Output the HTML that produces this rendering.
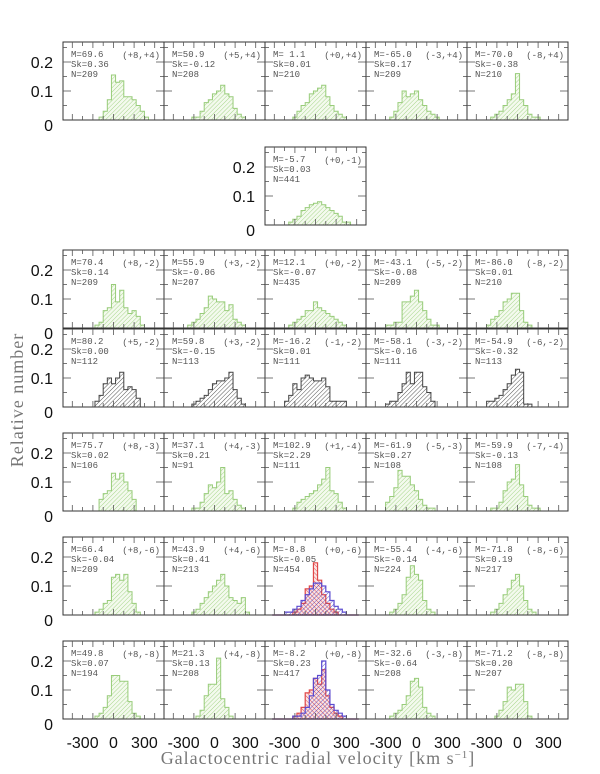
<!DOCTYPE html>
<html><head><meta charset="utf-8"><style>
html,body{margin:0;padding:0;background:#fff;}
svg{display:block;}
.pt{font-family:"Liberation Mono",monospace;font-size:9px;fill:#555;}
.yl{font-family:"Liberation Sans",sans-serif;font-size:16px;fill:#111;}
.ttl{font-family:"Liberation Serif",serif;font-size:18px;fill:#777;letter-spacing:1px;}
</style></head><body>
<svg id="chart" width="600" height="774" viewBox="0 0 600 774" xmlns="http://www.w3.org/2000/svg">
<defs>
<pattern id="hg" patternUnits="userSpaceOnUse" width="3" height="3" patternTransform="rotate(45)"><rect width="3" height="3" fill="#f4faee"/><line x1="0" y1="0" x2="0" y2="3" stroke="#a6d58a" stroke-width="1"/></pattern>
<pattern id="hk" patternUnits="userSpaceOnUse" width="3" height="3" patternTransform="rotate(45)"><rect width="3" height="3" fill="#fff"/><line x1="0" y1="0" x2="0" y2="3" stroke="#555" stroke-width="1"/></pattern>
<pattern id="hr" patternUnits="userSpaceOnUse" width="3" height="3" patternTransform="rotate(-45)"><rect width="3" height="3" fill="#fbe4e4"/><line x1="0" y1="0" x2="0" y2="3" stroke="#e05050" stroke-width="1"/></pattern>
<pattern id="hb" patternUnits="userSpaceOnUse" width="3" height="3" patternTransform="rotate(45)"><line x1="0" y1="0" x2="0" y2="3" stroke="#4a3fc0" stroke-width="1"/></pattern>
</defs>
<g id="panels"></g>
<text class="ttl" transform="translate(23,400) rotate(-90)" text-anchor="middle">Relative number</text>
<text class="ttl" x="318" y="764" text-anchor="middle">Galactocentric radial velocity [km s<tspan dy="-6" font-size="11">−1</tspan><tspan dy="6">]</tspan></text>
</svg>
<script>
const binCenters=[-400,-360,-320,-280,-240,-200,-160,-120,-80,-40,0,40,80,120,160,200,240,280,320,360,400];
const yTicks=[0,0.1,0.2];
const xTickLabels=[-300,0,300];
const panelRows=[0,0,0,0,0,1,2,2,2,2,2,3,3,3,3,3,4,4,4,4,4,5,5,5,5,5,6,6,6,6,6];
const panelCols=[0,1,2,3,4,2,0,1,2,3,4,0,1,2,3,4,0,1,2,3,4,0,1,2,3,4,0,1,2,3,4];
const panelM=["69.6","50.9"," 1.1","-65.0","-70.0","-5.7","70.4","55.9","12.1","-43.1","-86.0","80.2","59.8","-16.2","-58.1","-54.9","75.7","37.1","102.9","-61.9","-59.9","66.4","43.9","-8.8","-55.4","-71.8","49.8","21.3","-8.2","-32.6","-71.2"];
const panelSk=["0.36","-0.12","0.01","0.17","-0.38","0.03","0.14","-0.06","-0.07","-0.08","0.01","0.00","-0.15","0.01","-0.16","-0.32","0.02","0.21","2.29","0.27","-0.13","-0.04","0.41","-0.05","-0.14","0.19","0.07","0.13","0.23","-0.64","0.20"];
const panelN=["209","208","210","209","210","441","209","207","435","209","210","112","113","111","111","113","106","91","111","108","108","209","213","454","224","217","194","208","417","208","207"];
const panelField=["(+8,+4)","(+5,+4)","(+0,+4)","(-3,+4)","(-8,+4)","(+0,-1)","(+8,-2)","(+3,-2)","(+0,-2)","(-5,-2)","(-8,-2)","(+5,-2)","(+3,-2)","(-1,-2)","(-3,-2)","(-6,-2)","(+8,-3)","(+4,-3)","(+1,-4)","(-5,-3)","(-7,-4)","(+8,-6)","(+4,-6)","(+0,-6)","(-4,-6)","(-8,-6)","(+8,-8)","(+4,-8)","(+0,-8)","(-3,-8)","(-8,-8)"];
const panelStyle=["g","g","g","g","g","g","g","g","g","g","g","k","k","k","k","k","g","g","g","g","g","g","g","rb","g","g","g","g","rb","g","g"];
const h0=[0,0,0,0,0,0,0,0.01,0.03,0.07,0.155,0.13,0.135,0.08,0.08,0.07,0.05,0.03,0.01,0,0];
const h1=[0,0,0,0,0,0.01,0.01,0.03,0.06,0.07,0.09,0.10,0.12,0.09,0.08,0.04,0.02,0.01,0,0,0];
const h2=[0,0,0,0,0,0.01,0.03,0.05,0.06,0.09,0.10,0.11,0.12,0.08,0.05,0.03,0.02,0.01,0,0,0];
const h3=[0,0,0,0,0.01,0.03,0.06,0.10,0.08,0.09,0.10,0.07,0.05,0.03,0.02,0.01,0,0,0,0,0];
const h4=[0,0,0,0,0.01,0.02,0.03,0.05,0.07,0.09,0.16,0.07,0.05,0.02,0.01,0.01,0,0,0,0,0];
const h5=[0,0,0,0,0.01,0.02,0.03,0.05,0.06,0.07,0.075,0.08,0.07,0.06,0.05,0.04,0.03,0.01,0.01,0,0];
const h6=[0,0,0,0,0,0,0.01,0.02,0.06,0.07,0.15,0.09,0.13,0.07,0.05,0.06,0.04,0.01,0,0,0];
const h7=[0,0,0,0,0.01,0.02,0.03,0.05,0.07,0.11,0.10,0.09,0.09,0.06,0.08,0.03,0.02,0.01,0,0,0];
const h8=[0,0,0,0,0.01,0.02,0.03,0.04,0.06,0.06,0.09,0.07,0.06,0.05,0.04,0.03,0.02,0.01,0,0,0];
const h9=[0,0,0,0.01,0.01,0.02,0.02,0.09,0.09,0.11,0.13,0.09,0.06,0.03,0.01,0.01,0,0,0,0,0];
const h10=[0,0,0,0.01,0.03,0.04,0.06,0.09,0.10,0.12,0.12,0.06,0.02,0.01,0,0,0,0,0,0,0];
const h11=[0,0,0,0,0,0,0.02,0.04,0.08,0.10,0.08,0.10,0.12,0.06,0.07,0.06,0.03,0,0,0,0];
const h12=[0,0,0,0,0,0.01,0.02,0.03,0.04,0.06,0.08,0.09,0.09,0.10,0.12,0.06,0.03,0.01,0,0,0];
const h13=[0,0,0,0.02,0.04,0.08,0.06,0.10,0.11,0.10,0.09,0.09,0.10,0.07,0.02,0.02,0.02,0.02,0,0,0];
const h14=[0,0,0,0.01,0.02,0.02,0.05,0.08,0.12,0.08,0.12,0.12,0.07,0.05,0.02,0,0,0,0,0,0];
const h15=[0,0,0,0.02,0.02,0.03,0.04,0.06,0.08,0.11,0.13,0.12,0.01,0.01,0,0,0,0,0,0,0];
const h16=[0,0,0,0,0,0,0,0.04,0.06,0.07,0.13,0.11,0.13,0.10,0.07,0.04,0,0,0,0,0];
const h17=[0,0,0,0,0,0.01,0.01,0.03,0.06,0.09,0.08,0.10,0.15,0.06,0.07,0.04,0.02,0.01,0,0,0];
const h18=[0,0,0,0,0,0.01,0.03,0.04,0.05,0.06,0.07,0.09,0.11,0.15,0.07,0.06,0.03,0.01,0,0,0];
const h19=[0,0,0,0.03,0.05,0.08,0.14,0.12,0.12,0.09,0.07,0.04,0.02,0.01,0.01,0,0,0,0,0,0];
const h20=[0,0,0,0,0.01,0.01,0.03,0.07,0.10,0.11,0.16,0.09,0.05,0.02,0.01,0.01,0,0,0,0,0];
const h21=[0,0,0,0,0,0,0.01,0.02,0.04,0.05,0.13,0.14,0.12,0.14,0.08,0.04,0.01,0,0,0,0];
const h22=[0,0,0,0,0,0.01,0.02,0.04,0.06,0.08,0.10,0.12,0.14,0.10,0.06,0.05,0.04,0.06,0.01,0,0];
const h23=[0,0,0,0.01,0.01,0.02,0.03,0.05,0.07,0.09,0.11,0.11,0.10,0.08,0.05,0.03,0.02,0.01,0,0,0];
const h23red=[0,0,0,0,0,0.01,0.02,0.04,0.09,0.10,0.18,0.12,0.07,0.04,0.02,0.01,0,0,0,0,0];
const h24=[0,0,0,0,0.01,0.02,0.04,0.07,0.13,0.17,0.14,0.12,0.05,0.02,0.01,0,0,0,0,0,0];
const h25=[0,0,0,0,0.01,0.02,0.04,0.07,0.09,0.12,0.14,0.10,0.05,0.02,0.01,0,0,0,0,0,0];
const h26=[0,0,0,0,0,0,0.01,0.02,0.04,0.08,0.15,0.15,0.13,0.13,0.06,0.02,0.01,0,0,0,0];
const h27=[0,0,0,0,0,0,0.01,0.03,0.08,0.12,0.12,0.21,0.07,0.04,0.01,0,0,0,0,0,0];
const h28=[0,0,0,0,0,0.01,0.01,0.02,0.04,0.08,0.14,0.15,0.20,0.10,0.05,0.03,0.02,0.01,0,0,0];
const h28red=[0,0,0,0,0,0.01,0.02,0.04,0.09,0.10,0.14,0.12,0.17,0.08,0.04,0.02,0.01,0,0,0,0];
const h29=[0,0,0,0,0.01,0.02,0.03,0.05,0.08,0.13,0.14,0.11,0.04,0.02,0.01,0,0,0,0,0,0];
const h30=[0,0,0,0,0,0.01,0.03,0.06,0.11,0.10,0.12,0.12,0.06,0.01,0,0,0,0,0,0,0];
const hists=[h0,h1,h2,h3,h4,h5,h6,h7,h8,h9,h10,h11,h12,h13,h14,h15,h16,h17,h18,h19,h20,h21,h22,h23,h24,h25,h26,h27,h28,h29,h30];
const redHists={23:h23red,28:h28red};

const NS="http://www.w3.org/2000/svg";
const rowTop=[42,147,250,329,433,537,641];
const PH=78, PW=101, colLeft=[63,164,265,366,467];
const BIN=40;
function mk(tag,attrs,parent){const e=document.createElementNS(NS,tag);for(const k in attrs)e.setAttribute(k,attrs[k]);parent.appendChild(e);return e;}
function xs(left,v){return left+PW/2+v*0.103;}
function ys(top,f){return top+PH-f*290;}
function stepPath(left,top,vals){
  let d="",started=false;
  vals.forEach((f,i)=>{
    const x0=xs(left,binCenters[i]-BIN/2),x1=xs(left,binCenters[i]+BIN/2),y=ys(top,f);
    if(!started){d+="M"+x0+","+ys(top,0)+" L"+x0+","+y;started=true;}
    else d+=" L"+x0+","+y;
    d+=" L"+x1+","+y;
  });
  d+=" L"+xs(left,binCenters[binCenters.length-1]+BIN/2)+","+ys(top,0)+" Z";
  return d;
}
const root=document.getElementById("panels");
hists.forEach((vals,p)=>{
  const left=colLeft[panelCols[p]], top=rowTop[panelRows[p]];
  const g=mk("g",{},root);
  
  
  const st=panelStyle[p];
  if(st==="rb"){
    const r=mk("path",{d:stepPath(left,top,redHists[p]),fill:"url(#hr)",stroke:"#e04848","stroke-width":1.2},g);
    
    
    const b=mk("path",{d:stepPath(left,top,vals),fill:"url(#hb)","fill-opacity":0.85,stroke:"#5a4ad0","stroke-width":1.2},g);
    
    
  } else {
    const h=mk("path",{d:stepPath(left,top,vals),fill:st==="k"?"url(#hk)":"url(#hg)",stroke:st==="k"?"#444":"#98cc7a","stroke-width":1},g);
    
    
  }
  const fr=mk("rect",{x:left,y:top,width:PW,height:PH,fill:"none",stroke:"#333","stroke-width":1},g);
  
  
  for(let v=-400;v<=400;v+=100){
    const x=xs(left,v),L=(v%200===0)?6:4;
    mk("line",{x1:x,y1:top,x2:x,y2:top+L,stroke:"#555","stroke-width":0.8},g);
    mk("line",{x1:x,y1:top+PH,x2:x,y2:top+PH-L,stroke:"#555","stroke-width":0.8},g);
  }
  for(let f=0.05;f<0.26;f+=0.05){
    const y=ys(top,f),L=(Math.round(f*100)%10===0)?8:4;
    mk("line",{x1:left,y1:y,x2:left+L,y2:y,stroke:"#555","stroke-width":0.8},g);
    mk("line",{x1:left+PW,y1:y,x2:left+PW-L,y2:y,stroke:"#555","stroke-width":0.8},g);
  }
  const lines=["M="+panelM[p],"Sk="+panelSk[p],"N="+panelN[p]];
  lines.forEach((s,i)=>{
    const t=mk("text",{x:left+8,y:top+15+i*10,"class":"pt"},g);t.textContent=s;
    
    
  });
  const ft=mk("text",{x:left+PW-4,y:top+16,"class":"pt","text-anchor":"end"},g);ft.textContent=panelField[p];
  
  
  if(panelCols[p]===0 || panelRows[p]===1){
    yTicks.forEach(f=>{
      const t=mk("text",{x:left-10,y:(f===0?ys(top,0)+11:ys(top,f)+6),"class":"yl","text-anchor":"end"},root);
      t.textContent=String(f);
      
      
    });
  }
});
colLeft.forEach(left=>{
  xTickLabels.forEach(v=>{
    const t=mk("text",{x:xs(left,v),y:748,"class":"yl","text-anchor":"middle"},root);
    t.textContent=String(v);
    
    
  });
});
</script>
</body></html>
